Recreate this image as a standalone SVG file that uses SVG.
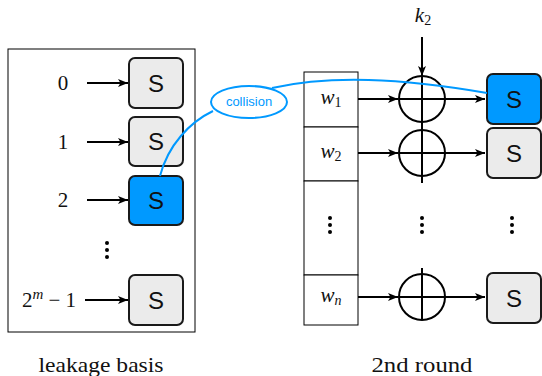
<svg xmlns="http://www.w3.org/2000/svg" width="542" height="376" viewBox="0 0 542 376">
<defs>
<marker id="ah" viewBox="0 0 10 8" refX="10" refY="4" markerWidth="11" markerHeight="8" orient="auto" markerUnits="userSpaceOnUse">
<path d="M0,0 L10,4 L0,8 L2.5,4 z" fill="#000"/>
</marker>
<style>
.sbox{fill:#ebebeb;stroke:#1a1a1a;stroke-width:2}
.sbl{fill:#0099ff;stroke:#1a1a1a;stroke-width:2}
.st{font-family:'Liberation Sans',Arial,sans-serif;font-size:24px;text-anchor:middle;fill:#111}
.m{font-family:'Liberation Serif','DejaVu Serif',serif;font-size:21px;text-anchor:middle;fill:#111}
.mi{font-family:'Liberation Serif','DejaVu Serif',serif;font-style:italic;font-size:21px;text-anchor:middle;fill:#111}
.ar{stroke:#000;stroke-width:2;fill:none;marker-end:url(#ah)}
.ln{stroke:#000;stroke-width:2;fill:none}
.thin{stroke:#000;stroke-width:1;fill:#fff}
.dot{fill:#000}
</style>
</defs>
<rect x="8" y="49" width="187" height="283" fill="none" stroke="#000" stroke-width="1"/>
<g id="label0"><text class="m" x="63" y="90">0</text></g>
<g id="label1"><text class="m" x="63" y="149">1</text></g>
<g id="label2"><text class="m" x="63" y="207">2</text></g>
<g id="labelm"><text class="m" x="49" y="307">2<tspan font-style="italic" font-size="15" dy="-8">m</tspan><tspan dy="8"> − 1</tspan></text></g>
<g id="s0"><rect class="sbox" x="129" y="58" width="54" height="50" rx="6"/><text class="st" x="156" y="92">S</text></g>
<g id="s1"><rect class="sbox" x="129" y="117" width="54" height="49" rx="6"/><text class="st" x="156" y="150">S</text></g>
<g id="s2"><rect class="sbl" x="129" y="176" width="54" height="49" rx="6"/><text class="st" x="156" y="209">S</text></g>
<g id="sm"><rect class="sbox" x="129" y="275" width="54" height="50" rx="6"/><text class="st" x="156" y="309">S</text></g>
<g id="ldots"><circle class="dot" cx="107" cy="243" r="2"/><circle class="dot" cx="107" cy="250" r="2"/><circle class="dot" cx="107" cy="257" r="2"/></g>
<g id="wcol">
<rect class="thin" x="304" y="72" width="54" height="55"/>
<rect class="thin" x="304" y="127" width="54" height="54"/>
<rect class="thin" x="304" y="181" width="54" height="94"/>
<rect class="thin" x="304" y="275" width="54" height="50"/>
<text class="mi" x="331" y="104">w<tspan font-style="normal" font-size="14" dy="3">1</tspan></text>
<text class="mi" x="331" y="158">w<tspan font-style="normal" font-size="14" dy="3">2</tspan></text>
<text class="mi" x="331" y="302">w<tspan font-size="14" dy="3">n</tspan></text>
<circle class="dot" cx="330" cy="218" r="2"/><circle class="dot" cx="330" cy="225" r="2"/><circle class="dot" cx="330" cy="232" r="2"/>
</g>
<g id="k2"><text class="mi" x="423" y="22">k<tspan font-style="normal" font-size="14" dy="3">2</tspan></text></g>
<g id="xor1"><circle cx="422" cy="99" r="23" fill="none" stroke="#000" stroke-width="2"/><line class="ln" x1="399" y1="99" x2="445" y2="99"/></g>
<g id="xor2"><circle cx="422" cy="153" r="23" fill="none" stroke="#000" stroke-width="2"/><line class="ln" x1="399" y1="153" x2="445" y2="153"/></g>
<g id="xorn"><circle cx="422" cy="297" r="23" fill="none" stroke="#000" stroke-width="2"/><line class="ln" x1="399" y1="297" x2="445" y2="297"/></g>
<g id="mdots"><circle class="dot" cx="422" cy="218" r="2"/><circle class="dot" cx="422" cy="225" r="2"/><circle class="dot" cx="422" cy="232" r="2"/></g>
<g id="rdots"><circle class="dot" cx="512" cy="218" r="2"/><circle class="dot" cx="512" cy="225" r="2"/><circle class="dot" cx="512" cy="232" r="2"/></g>
<g id="r1"><rect class="sbl" x="487" y="74" width="54" height="50" rx="6"/><text class="st" x="514" y="108">S</text></g>
<g id="r2"><rect class="sbox" x="487" y="128" width="54" height="50" rx="6"/><text class="st" x="514" y="162">S</text></g>
<g id="rn"><rect class="sbox" x="487" y="273" width="54" height="50" rx="6"/><text class="st" x="514" y="307">S</text></g>
<g id="connectors">
<line class="ar" x1="87" y1="83" x2="128" y2="83"/>
<line class="ar" x1="87" y1="142" x2="128" y2="142"/>
<line class="ar" x1="87" y1="200" x2="128" y2="200"/>
<line class="ar" x1="85" y1="300" x2="128" y2="300"/>
<line class="ar" x1="422" y1="37" x2="422" y2="76"/>
<line class="ln" x1="422" y1="76" x2="422" y2="183"/>
<line class="ln" x1="422" y1="268" x2="422" y2="320"/>
<line class="ar" x1="358" y1="99" x2="398" y2="99"/>
<line class="ar" x1="358" y1="153" x2="398" y2="153"/>
<line class="ar" x1="358" y1="297" x2="398" y2="297"/>
<line class="ar" x1="445" y1="99" x2="485" y2="99"/>
<line class="ar" x1="445" y1="153" x2="485" y2="153"/>
<line class="ar" x1="445" y1="297" x2="485" y2="297"/>
<path d="M160,176 C168,145 190,122 213,111" fill="none" stroke="#0099ff" stroke-width="2"/>
<path d="M272,88 C330,75 400,78 487,93" fill="none" stroke="#0099ff" stroke-width="2"/>
</g>
<g id="collision"><ellipse cx="249" cy="102" rx="38" ry="16" fill="#fff" stroke="#0099ff" stroke-width="2"/><text x="249" y="106" font-family="'Liberation Sans',Arial,sans-serif" font-size="13" text-anchor="middle" fill="#0099ff">collision</text></g>
<g id="captions">
<text class="m" x="101" y="372" textLength="125" lengthAdjust="spacingAndGlyphs">leakage basis</text>
<text class="m" x="422" y="372" textLength="101" lengthAdjust="spacingAndGlyphs">2nd round</text>
</g>
</svg>
